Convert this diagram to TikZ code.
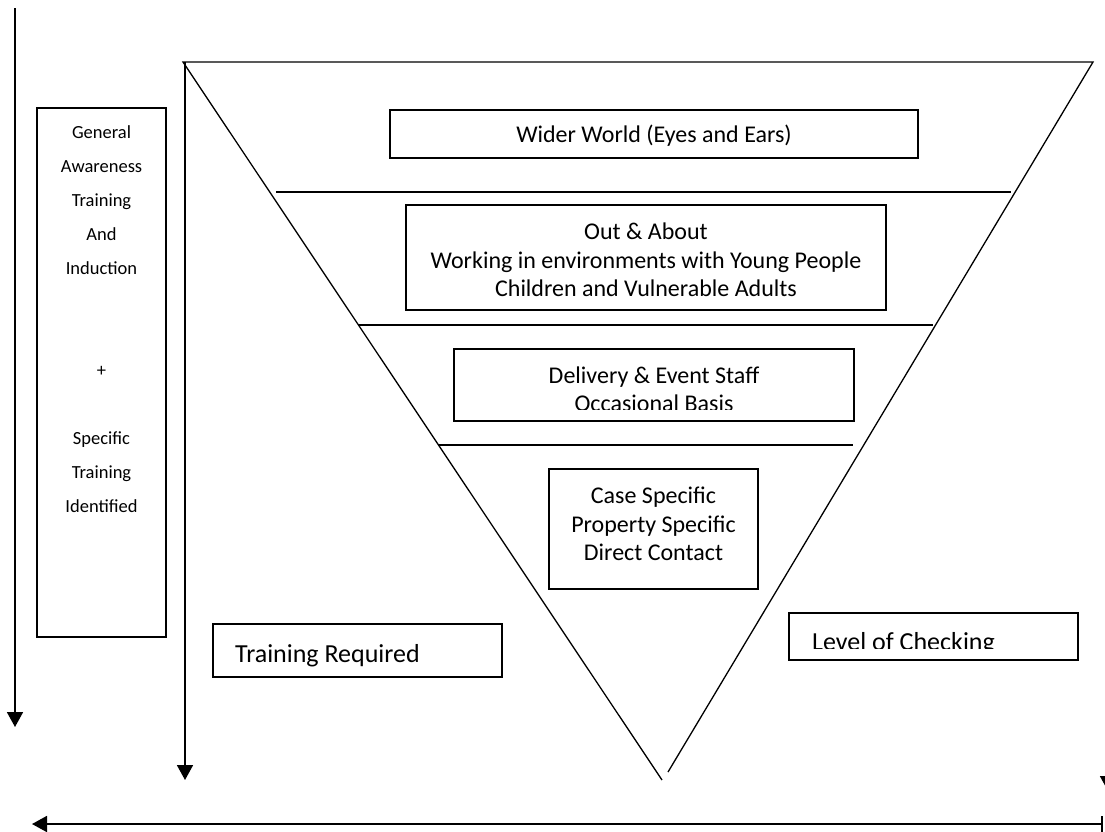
\documentclass[tikz,border=0pt]{standalone}
\usepackage{fontspec}
\setmainfont{Carlito}
\usetikzlibrary{arrows.meta}
\tikzset{
  edge/.style={draw=black, line width=1.3pt},
  level/.style={draw=black, line width=1.5pt},
  arr/.style={draw=black, line width=1.8pt, -{Triangle[width=16pt,length=15pt]}},
  box/.style={draw=black, line width=1.7pt, inner sep=0pt},
  txt/.style={font=\fontsize{24}{28.5}\selectfont, align=center, inner sep=0pt},
  side/.style={font=\fontsize{18.5}{34}\selectfont, align=center, inner sep=0pt},
  big/.style={font=\fontsize{26}{30}\selectfont, inner sep=0pt},
}
\begin{document}
\begin{tikzpicture}[x=1pt,y=-1pt]
  \useasboundingbox (0,0) rectangle (1105,831);
  \clip (0,0) rectangle (1105,831);
  % triangle
  \coordinate (TL) at (183,62);
  \coordinate (TR) at (1093,62);
  \coordinate (BL) at (662,780);
  \coordinate (BR) at (668,772);
  \draw[edge] (BL) -- (TL) -- (TR) -- (BR);
  \draw[level] (276,192) -- (1011,192);
  \draw[level] (358,325) -- (933,325);
  \draw[level] (438,445) -- (853,445);
  % arrows
  \coordinate (outS) at (15,8);
  \coordinate (outE) at (15,727);
  \coordinate (inS) at (185,62);
  \coordinate (inE) at (185,780);
  \coordinate (botS) at (1103,824);
  \coordinate (botE) at (32,824);
  \coordinate (cutS) at (1108,700);
  \coordinate (cutE) at (1108,791);
  \draw[arr] (outS) -- (outE);
  \draw[arr] (inS) -- (inE);
  \draw[arr, {Bar[width=16pt]}-{Triangle[width=16pt,length=15pt]}] (botS) -- (botE);
  \draw[arr] (cutS) -- (cutE);
  % left box
  \node[box, minimum width=129pt, minimum height=529pt] (genbox) at (101.5,372.5) {};
  \node[side] (gen) at (101.5,319.5) {General\\Awareness\\Training\\And\\Induction\\[68pt]+\\[34pt]Specific\\Training\\Identified};
  % tiers
  \node[box, minimum width=528pt, minimum height=48pt] (widerbox) at (654,134) {};
  \node[txt] (wider) at (654,135.5) {Wider World (Eyes and Ears)};
  \node[box, minimum width=480pt, minimum height=105pt] (outbox) at (646,257.5) {};
  \node[txt] (out) at (646,260) {Out \& About\\Working in environments with Young People\\Children and Vulnerable Adults};
  \node[box, minimum width=400pt, minimum height=72pt] (delbox) at (654,385) {};
  \begin{scope}
    \clip (454,349) rectangle (854,409.5);
    \node[txt] (del) at (654,389) {Delivery \& Event Staff\\Occasional Basis};
  \end{scope}
  \node[box, minimum width=209pt, minimum height=120pt] (casebox) at (653.5,529) {};
  \node[txt] (case) at (653.5,524) {Case Specific\\Property Specific\\Direct Contact};
  % captions
  \node[box, minimum width=289pt, minimum height=53pt] (trainbox) at (357.5,650.5) {};
  \node[big, anchor=base west] (train) at (235,662) {Training Required};
  \node[box, minimum width=289pt, minimum height=47pt] (checkbox) at (933.5,636.5) {};
  \begin{scope}
    \clip (789,613) rectangle (1078,648);
    \node[big, anchor=base west] (check) at (812,650) {Level of Checking};
  \end{scope}
\end{tikzpicture}
\end{document}
